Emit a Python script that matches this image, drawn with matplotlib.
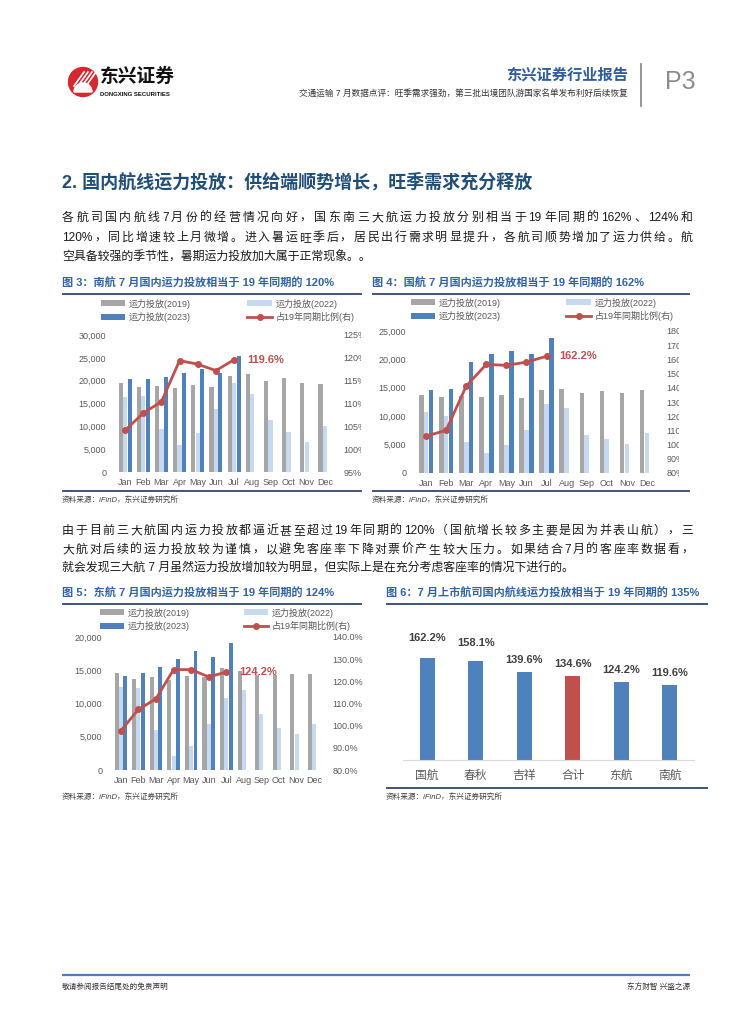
import re
import numpy as np
import matplotlib
matplotlib.use('Agg')
import matplotlib.pyplot as plt
from matplotlib.patches import Circle, Wedge
from matplotlib.transforms import Bbox

plt.rcParams['font.family'] = ['Liberation Sans', 'Noto Sans CJK SC']

# ---- data ----
months = ['Jan', 'Feb', 'Mar', 'Apr', 'May', 'Jun', 'Jul', 'Aug', 'Sep', 'Oct', 'Nov', 'Dec']

# China Southern (南航) domestic capacity
csa_2019 = [19400, 18700, 18800, 18300, 19000, 18700, 21000, 21400, 19900, 20500, 19400, 19200]
csa_2022 = [16500, 16700, 9400, 5900, 8600, 13800, 19500, 17000, 11300, 8800, 6600, 10100]
csa_2023 = [20300, 20300, 20700, 21700, 22500, 21700, 25500]
csa_ratio = [104.1, 107.9, 110.4, 119.4, 118.6, 117.2, 119.6]

# Air China (国航)
ca_2019 = [13700, 13300, 13600, 13400, 13700, 13200, 14600, 14800, 14000, 14400, 14000, 14600]
ca_2022 = [10700, 10000, 5400, 3500, 4900, 7500, 12200, 11500, 6700, 5900, 5100, 7000]
ca_2023 = [14600, 14800, 19500, 21000, 21500, 21000, 23800]
ca_ratio = [105.9, 110.1, 141.2, 156.5, 155.8, 158.1, 162.2]

# China Eastern (东航)
ce_2019 = [14650, 13750, 13950, 13500, 14200, 14000, 15350, 14900, 14250, 14350, 14400, 14400]
ce_2022 = [12500, 12350, 6000, 2100, 3600, 6850, 10800, 12000, 8400, 6250, 5400, 6900]
ce_2023 = [14200, 14650, 15500, 16750, 17850, 17050, 19100]
ce_ratio = [97.7, 107.3, 112.1, 125.3, 125.3, 122.0, 124.2]

# July capacity vs 2019, listed airlines
airlines = ['国航', '春秋', '吉祥', '合计', '东航', '南航']
july_ratio = [162.2, 158.1, 139.6, 134.6, 124.2, 119.6]

legend_labels = ['运力投放(2019)', '运力投放(2023)', '运力投放(2022)', '占19年同期比例(右)']

GRAY = '#A6A6A6'
LIGHT = '#C6D9F1'
BLUE = '#4F81BD'
RED = '#C0504D'
NAVY = '#1F3864'
TITLE = '#2F63A6'
TICK = '#595959'
TEXT = '#1A1A1A'

W, H = 755, 1024
fig = plt.figure(figsize=(W / 100, H / 100), dpi=100)
bg = fig.add_axes([0, 0, 1, 1])
bg.set_xlim(0, W)
bg.set_ylim(H, 0)
bg.axis('off')


def px_axes(left, top, right, bottom):
    return fig.add_axes([left / W, 1 - bottom / H, (right - left) / W, (bottom - top) / H])


def hline(x0, x1, y, color=NAVY, lw=1.2):
    bg.plot([x0, x1], [y, y], color=color, lw=lw, solid_capstyle='butt')


def combo(box, v19, v22, v23, ratio, ymax, ystep, rlim, rstep, rfmt, note,
          leg_xy, colspace, clip_x=None):
    ax = px_axes(*box)
    x = np.arange(len(months))
    b19 = ax.bar(x - 0.24, v19, 0.23, color=GRAY)
    b22 = ax.bar(x, v22, 0.23, color=LIGHT)
    b23 = ax.bar(np.arange(len(v23)) + 0.25, v23, 0.22, color=BLUE)
    ax.set_xlim(-0.5, 11.5)
    ax.set_ylim(0, ymax)
    yt = np.arange(0, ymax + 1, ystep)
    ax.set_yticks(yt, [f'{int(v):,}' for v in yt])
    ax.set_xticks(x, months)
    ax.tick_params(length=0, labelsize=6.5, labelcolor=TICK)
    ax.tick_params(axis='y', pad=7)
    ax.tick_params(axis='x', pad=4)
    for s in ax.spines.values():
        s.set_visible(False)

    ax2 = ax.twinx()
    ln, = ax2.plot(np.arange(len(ratio)), ratio, color=RED, lw=2, marker='o', ms=4)
    ax2.set_ylim(*rlim)
    rt = np.arange(rlim[0], rlim[1] + 0.01, rstep)
    ax2.set_yticks(rt, [rfmt.format(v) for v in rt])
    ax2.tick_params(length=0, labelsize=6.5, labelcolor=TICK, pad=7)
    for s in ax2.spines.values():
        s.set_visible(False)
    ax2.annotate(note, (len(ratio) - 1, ratio[-1]), xytext=(13, 0), textcoords='offset pixels',
                 ha='left', va='center', fontsize=8, fontweight='bold', color=RED)
    if clip_x is not None:
        for t in ax2.get_yticklabels():
            t.set_clip_on(True)
            t.set_clip_box(Bbox.from_extents(0, 0, clip_x, H))

    fig.legend([b19, b23, b22, ln], legend_labels, ncol=2, loc='upper left',
               bbox_to_anchor=(leg_xy[0] / W, 1 - leg_xy[1] / H), frameon=False,
               fontsize=6.5, labelcolor=TICK, handlelength=2.7, handleheight=0.6,
               handletextpad=0.4, columnspacing=colspace, labelspacing=0.4, borderpad=0)
    return ax


# ---- header ----
bg.add_patch(Circle((83, 82), 14.5, color='#D7282F'))
bg.add_patch(Wedge((83, 92), 9, 180, 360, color='white'))
for k in range(4):
    bg.plot([74 + k * 4, 84 + k * 4], [86, 72], color='white', lw=1.2)
bg.text(100, 77, '东兴证券', fontsize=13.5, fontweight='bold', color='#111111', va='center')
bg.text(100, 95, 'DONGXING SECURITIES', fontsize=4.3, fontweight='bold', color='#111111', va='center')
bg.text(628, 75, '东兴证券行业报告', fontsize=11, fontweight='bold', color='#2E5C9E',
        ha='right', va='center')
bg.text(628, 93, '交通运输 7 月数据点评：旺季需求强劲，第三批出境团队游国家名单发布利好后续恢复',
        fontsize=6.2, color='#333333', ha='right', va='center')
bg.plot([641, 641], [64, 106], color='#8C8C8C', lw=1.3)
bg.text(665, 82, 'P3', fontsize=18, color='#8C8C8C', va='center')

# ---- section heading and paragraphs ----
bg.text(62, 182, '2. 国内航线运力投放：供给端顺势增长，旺季需求充分释放', fontsize=13,
        fontweight='bold', color='#1F4E79', va='center')

renderer = fig.canvas.get_renderer()


def para_line(y, s, justify=True, x0=62, x1=693, size=8.6):
    if not justify:
        bg.text(x0, y, s, fontsize=size, color=TEXT, va='center')
        return
    tokens = re.findall(r'[A-Za-z0-9.%]+|\S', s)
    texts = [bg.text(0, y, t, fontsize=size, color=TEXT, va='center') for t in tokens]
    widths = [t.get_window_extent(renderer).width for t in texts]
    gap = (x1 - x0 - sum(widths)) / (len(tokens) - 1)
    pos = x0
    for t, w in zip(texts, widths):
        t.set_x(pos)
        pos += w + gap


para_line(218, '各航司国内航线 7 月份的经营情况向好，国东南三大航运力投放分别相当于 19 年同期的 162%、124%和')
para_line(238, '120%，同比增速较上月微增。进入暑运旺季后，居民出行需求明显提升，各航司顺势增加了运力供给。航')
para_line(258, '空具备较强的季节性，暑期运力投放加大属于正常现象。。', justify=False)

para_line(531, '由于目前三大航国内运力投放都逼近甚至超过 19 年同期的 120%（国航增长较多主要是因为并表山航），三')
para_line(550, '大航对后续的运力投放较为谨慎，以避免客座率下降对票价产生较大压力。如果结合 7 月的客座率数据看，')
para_line(569, '就会发现三大航 7 月虽然运力投放增加较为明显，但实际上是在充分考虑客座率的情况下进行的。', justify=False)

# ---- chart titles, rules and sources ----
chart_titles = [
    (62, 283, '图 3：南航 7 月国内运力投放相当于 19 年同期的 120%'),
    (372, 283, '图 4：国航 7 月国内运力投放相当于 19 年同期的 162%'),
    (62, 593, '图 5：东航 7 月国内运力投放相当于 19 年同期的 124%'),
    (386, 593, '图 6：7 月上市航司国内航线运力投放相当于 19 年同期的 135%'),
]
for x, y, s in chart_titles:
    bg.text(x, y, s, fontsize=8, fontweight='bold', color=TITLE, va='center')
hline(62, 362, 294)
hline(372, 690, 294)
hline(62, 362, 604)
hline(386, 708, 604)
hline(62, 362, 491)
hline(372, 690, 491)
hline(386, 708, 788)
for x, y in [(62, 500), (372, 500), (62, 797), (386, 797)]:
    bg.text(x, y, '资料来源：iFinD，东兴证券研究所', fontsize=5.5, style='italic',
            color='#404040', va='center')

# ---- combo charts ----
combo((116, 335, 334, 472), csa_2019, csa_2022, csa_2023, csa_ratio, 30000, 5000,
      (95, 125), 5, '{:.0f}%', '119.6%', (96, 294), 6.3, clip_x=361)
combo((416, 331, 657, 473), ca_2019, ca_2022, ca_2023, ca_ratio, 25000, 5000,
      (80, 180), 10, '{:.0f}%', '162.2%', (406, 293), 7.3, clip_x=679)
combo((112, 637, 323, 770), ce_2019, ce_2022, ce_2023, ce_ratio, 20000, 5000,
      (80, 140), 10, '{:.1f}%', '124.2%', (95, 603), 6.0)

# ---- July ratio bar chart ----
ax6 = px_axes(403, 647, 694, 760)
pos6 = np.arange(len(airlines))
ax6.bar(pos6, july_ratio, 0.31, color=[RED if a == '合计' else BLUE for a in airlines])
ax6.set_xlim(-0.5, len(airlines) - 0.5)
ax6.set_ylim(0, 180)
ax6.set_yticks([])
ax6.set_xticks(pos6, airlines)
ax6.tick_params(length=0, labelsize=8.5, labelcolor=TICK, pad=7)
for side in ['top', 'left', 'right']:
    ax6.spines[side].set_visible(False)
ax6.spines['bottom'].set_color('#D9D9D9')
lift = [20, 18, 12, 12, 12, 12]
for i, v in enumerate(july_ratio):
    ax6.annotate(f'{v}%', (i, v), xytext=(0, lift[i]), textcoords='offset pixels',
                 ha='center', va='center', fontsize=8, fontweight='bold', color='#404040')

# ---- footer ----
hline(62, 690, 975, color='#4A7EBB', lw=1.6)
bg.text(62, 987, '敬请参阅报告结尾处的免责声明', fontsize=5.5, color='#333333', va='center')
bg.text(690, 987, '东方财智 兴盛之源', fontsize=5.5, color='#333333', ha='right', va='center')

fig.savefig('out.png', dpi=100)
